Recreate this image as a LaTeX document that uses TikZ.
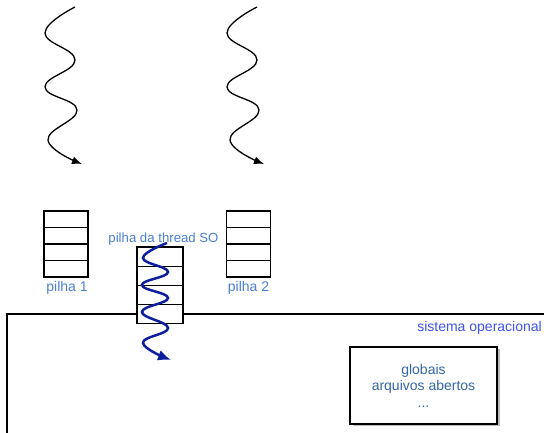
\documentclass[tikz,border=0pt]{standalone}
\usepackage{fontspec}
\setmainfont{Liberation Sans}
\usetikzlibrary{arrows.meta,shadows}
\definecolor{lblue}{HTML}{4A7FD6}
\definecolor{sblue}{HTML}{3F52EE}
\definecolor{tblue}{HTML}{3566A8}
\definecolor{wblue}{HTML}{0D1F9C}
\tikzset{
  cell/.style={draw=black, line width=1.2pt, fill=white, minimum width=44pt, minimum height=16.5pt, inner sep=0pt, outer sep=0pt},
  mcell/.style={draw=black, line width=1.2pt, fill=white, minimum width=46pt, minimum height=19.2pt, inner sep=0pt, outer sep=0pt},
  lbl/.style={font=\fontsize{14}{16}\selectfont, text=lblue, inner sep=0pt},
  wave/.style={line width=1.3pt, -{Latex[length=10pt,width=8pt]}},
  bwave/.style={line width=2.5pt, draw=wblue, -{Latex[length=13pt,width=11pt]}},
}
\begin{document}
\begin{tikzpicture}[x=1pt,y=-1pt]
\useasboundingbox (0,0) rectangle (544,433);
% operating system area
\coordinate (osr) at (546,314);
\coordinate (ostl) at (7,314);
\coordinate (osb) at (7,436);
\draw[line width=1.3pt] (osr) -- (ostl) -- (osb);
\node[font=\fontsize{14}{16}\selectfont, text=sblue, anchor=east, inner sep=0pt] (so) at (542,328) {sistema operacional};
\coordinate (shtl) at (352.5,348.5);
\coordinate (shbr) at (499.5,425.5);
\fill[black!45, opacity=0.6] (shtl) rectangle (shbr);
\node[draw=black, line width=1.2pt, fill=white, minimum width=147pt, minimum height=77pt,
      align=center, font=\fontsize{14}{16.5}\selectfont, text=tblue] (glob) at (423.5,385.5)
      {globais\\arquivos abertos\\...};
% stack 1
\foreach \i in {0,1,2,3}{
  \node[cell] (a\i) at (66,219.25+16.5*\i) {};
}
\node[lbl] (p1) at (67,288) {pilha 1};
% stack 2
\foreach \i in {0,1,2,3}{
  \node[cell] (b\i) at (248.5,219.25+16.5*\i) {};
}
\node[lbl] (p2) at (248.5,288) {pilha 2};
% middle stack
\foreach \i in {0,1,2,3}{
  \node[mcell] (c\i) at (160,256.6+19.2*\i) {};
}
\node[lbl, font=\fontsize{13.2}{15}\selectfont] (p3) at (163.5,239) {pilha da thread SO};
% black waves
\coordinate (w1s) at (75,7);
\coordinate (w1e) at (82,164);
\draw[wave] plot[smooth, tension=0.75] coordinates {(w1s) (45,33) (75,60) (45,87) (77,110) (48,140) (w1e)};
\coordinate (w2s) at (257,7);
\coordinate (w2e) at (264,164);
\draw[wave] plot[smooth, tension=0.75] coordinates {(w2s) (227,33) (257,60) (227,87) (259,110) (230,140) (w2e)};
% blue wave
\coordinate (bws) at (167,243);
\coordinate (bwe) at (171,360);
\draw[bwave] plot[smooth, tension=0.75] coordinates {(bws) (143,258) (168,272) (142,285) (168,298) (142,312) (168,328) (143,343) (bwe)};
\end{tikzpicture}
\end{document}
